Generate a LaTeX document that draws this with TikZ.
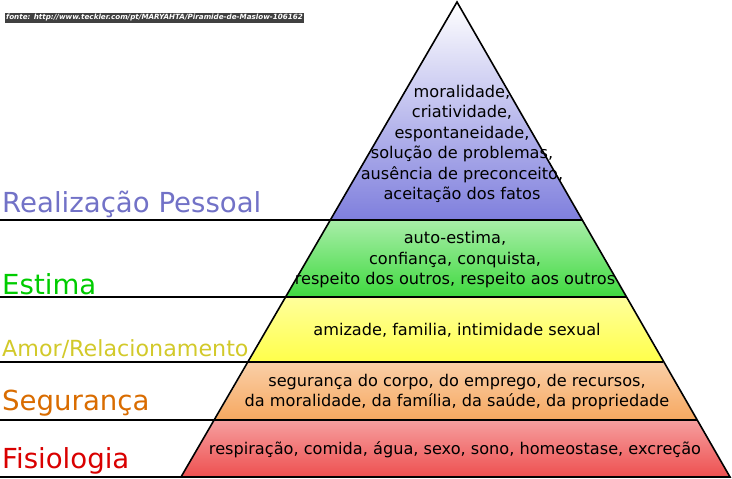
\documentclass[tikz,border=0pt]{standalone}
\usepackage{fontspec}
\setmainfont{DejaVu Sans}
\usetikzlibrary{calc, positioning}

\definecolor{topc}{HTML}{7F7FDD}
\definecolor{estc}{HTML}{3FD93F}
\definecolor{amorc}{HTML}{FFFF4A}
\definecolor{segc}{HTML}{F6A860}
\definecolor{fisc}{HTML}{EE5050}

\begin{document}
\begin{tikzpicture}[x=1bp, y=-1bp,
  band/.style={draw=black, line width=1.6bp},
  lvl/.style={anchor=south west, inner sep=0pt, font=\fontsize{27.7}{28}\selectfont},
  txt/.style={align=center, font=\fontsize{16.2}{20.6}\selectfont, inner sep=0pt}]
  \useasboundingbox (0,0) rectangle (732,479);
  % pyramid corners
  \coordinate (apex) at (457,2);
  \coordinate (bl) at (181,477);
  \coordinate (br) at (730,477);
  % bands
  \shade[top color=white, bottom color=topc] (apex) -- (330,220) -- (582,220) -- cycle;
  \shade[top color=estc!45, bottom color=estc] (330,220) -- (286,297) -- (626,297) -- (582,220) -- cycle;
  \shade[top color=amorc!55, bottom color=amorc] (286,297) -- (249,362) -- (663,362) -- (626,297) -- cycle;
  \shade[top color=segc!55, bottom color=segc] (249,362) -- (215,420) -- (697,420) -- (663,362) -- cycle;
  \shade[top color=fisc!55, bottom color=fisc] (215,420) -- (bl) -- (br) -- (697,420) -- cycle;
  \draw[band] (apex) -- (bl) -- (br) -- cycle;
  % level lines
  \draw[band] (0,220) -- (582,220);
  \draw[band] (0,297) -- (626,297);
  \draw[band] (0,362) -- (663,362);
  \draw[band] (0,420) -- (697,420);
  \draw[band] (0,477) -- (bl);
  % level names
  \node[lvl, text=topc!90!black] (real) at (2,218) {Realização Pessoal};
  \node[lvl, text=green!80!black] (est) at (2,295) {Estima};
  \node[lvl, text=yellow!80!black, font=\fontsize{22.3}{22}\selectfont] (amor) at (2,359) {Amor/Relacionamento};
  \node[lvl, text=orange!85!black] (seg) at (2,416) {Segurança};
  \node[lvl, text=red!85!black] (fis) at (2,474) {Fisiologia};
  % contents
  \node[txt] (ctop) at (462,144) {moralidade,\\criatividade,\\espontaneidade,\\solução de problemas,\\ausência de preconceito,\\aceitação dos fatos};
  \node[txt] (cest) at (455,260) {auto-estima,\\confiança, conquista,\\respeito dos outros, respeito aos outros};
  \node[txt] (camor) at (457,330) {amizade, familia, intimidade sexual};
  \node[txt] (cseg) at (457,392) {segurança do corpo, do emprego, de recursos,\\da moralidade, da família, da saúde, da propriedade};
  \node[txt] (cfis) at (455,450) {respiração, comida, água, sexo, sono, homeostase, excreção};
  % source
  \node[anchor=west, inner sep=0pt, font=\bfseries\itshape\fontsize{7.2}{7}\selectfont, text=white,
    fill=black!75, inner xsep=1pt, inner ysep=1.5pt] (fonte) at (5,18) {fonte: http://www.teckler.com/pt/MARYAHTA/Piramide-de-Maslow-106162};
\end{tikzpicture}
\end{document}
